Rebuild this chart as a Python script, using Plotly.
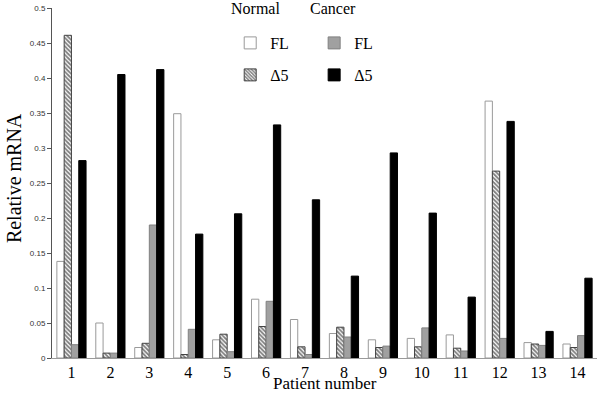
import plotly.graph_objects as go

patients = [str(i) for i in range(1, 15)]
normal_fl = [0.138, 0.050, 0.015, 0.349, 0.026, 0.084, 0.055, 0.035, 0.026, 0.028, 0.033, 0.367, 0.022, 0.020]
normal_d5 = [0.461, 0.007, 0.021, 0.005, 0.034, 0.045, 0.016, 0.044, 0.015, 0.016, 0.014, 0.267, 0.020, 0.015]
cancer_fl = [0.019, 0.007, 0.190, 0.041, 0.009, 0.081, 0.005, 0.030, 0.017, 0.043, 0.010, 0.028, 0.018, 0.032]
cancer_d5 = [0.282, 0.405, 0.412, 0.177, 0.206, 0.333, 0.226, 0.117, 0.293, 0.207, 0.087, 0.338, 0.038, 0.114]
y_ticks = [0, 0.05, 0.1, 0.15, 0.2, 0.25, 0.3, 0.35, 0.4, 0.45, 0.5]

serif = "Liberation Serif"

fig = go.Figure()
fig.add_trace(go.Bar(x=patients, y=normal_fl, name="FL", legend="legend",
                     marker=dict(color="white", line=dict(color="#9a9a9a", width=1))))
fig.add_trace(go.Bar(x=patients, y=normal_d5, name="Δ5", legend="legend2",
                     marker=dict(color="white", line=dict(color="#444444", width=1),
                                 pattern=dict(shape="\\", fgcolor="black", bgcolor="white",
                                              size=3, solidity=0.6))))
fig.add_trace(go.Bar(x=patients, y=cancer_fl, name="FL", legend="legend3",
                     marker=dict(color="#a0a0a0", line=dict(color="#808080", width=1))))
fig.add_trace(go.Bar(x=patients, y=cancer_d5, name="Δ5", legend="legend4",
                     marker=dict(color="black", line=dict(color="black", width=1))))

def leg(x, y):
    return dict(x=x, y=y, xanchor="left", yanchor="middle",
                font=dict(family=serif, size=16, color="black"),
                bgcolor="rgba(0,0,0,0)", itemwidth=30)

def note(text, x, y, size, **kw):
    return dict(text=text, x=x, y=y, xref="paper", yref="paper",
                showarrow=False, font=dict(family=serif, size=size, color="black"), **kw)

fig.update_layout(
    width=600, height=394,
    margin=dict(l=52, r=3, t=8, b=36),
    paper_bgcolor="white", plot_bgcolor="white",
    barmode="group", bargap=0.25, bargroupgap=0,
    font=dict(family=serif, color="black"),
    showlegend=True,
    legend=leg(0.327, 0.90),
    legend2=leg(0.327, 0.8086),
    legend3=leg(0.481, 0.90),
    legend4=leg(0.481, 0.8086),
    annotations=[
        note("Normal", 0.3725, 1.0, 16, xanchor="center", yanchor="middle"),
        note("Cancer", 0.5147, 1.0, 16, xanchor="center", yanchor="middle"),
        note("Patient number", 0.5, -0.1029, 17, xanchor="center", yanchor="bottom", borderpad=0),
        note("Relative mRNA", -0.0697, 0.514, 20, xanchor="center", yanchor="middle",
             textangle=-90, borderpad=0),
    ],
    xaxis=dict(type="category", showline=True, linecolor="#9a9a9a", linewidth=1,
               ticks="", showgrid=False, automargin=False,
               tickfont=dict(family=serif, size=16)),
    yaxis=dict(range=[0, 0.5], tickvals=y_ticks, ticktext=[f"{v:g}" for v in y_ticks],
               showline=True, linecolor="#555555", linewidth=1,
               ticks="outside", ticklen=4, tickcolor="#555555",
               showgrid=False, zeroline=False, automargin=False,
               tickfont=dict(family="Liberation Sans", size=8, color="#333333")),
)

fig.write_html("out.html", config={"displayModeBar": False},
               post_script="document.body.style.margin='0';document.body.style.padding='0';")
